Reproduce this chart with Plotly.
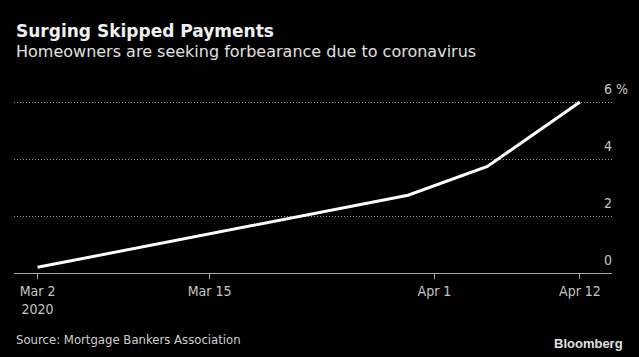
import plotly.graph_objects as go

# Data
dates = ["2020-03-02", "2020-03-30", "2020-04-05", "2020-04-12"]
share_pct = [0.2, 2.73, 3.74, 6.0]

x_tick_vals = ["2020-03-02", "2020-03-15", "2020-04-01", "2020-04-12"]
x_tick_text = ["Mar 2<br>2020", "Mar 15", "Apr 1", "Apr 12"]
y_tick_vals = [0, 2, 4, 6]
y_tick_text = ["0", "2", "4", "6 %"]

title = "Surging Skipped Payments"
subtitle = "Homeowners are seeking forbearance due to coronavirus"
source = "Source: Mortgage Bankers Association"

COND = "DejaVu Sans Condensed, DejaVu Sans, sans-serif"

fig = go.Figure()
fig.add_trace(go.Scatter(
    x=dates, y=share_pct, mode="lines",
    line=dict(color="#ffffff", width=3),
    hoverinfo="skip", showlegend=False,
))

fig.update_layout(
    width=639, height=357,
    paper_bgcolor="#000000", plot_bgcolor="#000000",
    margin=dict(l=14, r=27, t=93, b=84),
    xaxis=dict(
        type="date",
        range=["2020-02-29 05:17", "2020-04-14 10:05"],
        tickvals=x_tick_vals, ticktext=x_tick_text,
        showgrid=False, zeroline=False,
        showline=True, linecolor="#a8a8a8", linewidth=1,
        ticks="outside", ticklen=5, tickcolor="#a8a8a8", tickwidth=1,
        tickfont=dict(family=COND, size=14, color="#c4c4c4"),
        fixedrange=True,
    ),
    yaxis=dict(
        range=[0, 6.316],
        tickvals=y_tick_vals, showticklabels=False,
        showgrid=True, gridcolor="#9a9a9a", griddash="1px,2px", gridwidth=1,
        zeroline=False, showline=False, ticks="",
        fixedrange=True,
    ),
    showlegend=False,
)

annotations = []
for v, t in zip(y_tick_vals, y_tick_text):
    annotations.append(dict(
        x=0.983, xref="paper", y=v, yref="y", text=t, showarrow=False,
        xanchor="left", yanchor="middle", yshift=13,
        font=dict(family=COND, size=14, color="#c4c4c4"),
    ))

annotations += [
    dict(x=0, xref="paper", y=1.344, yref="paper", text="<b>" + title + "</b>",
         showarrow=False, xanchor="left", yanchor="middle",
         font=dict(family="DejaVu Sans, sans-serif", size=17, color="#f0f0f0")),
    dict(x=0, xref="paper", y=1.228, yref="paper", text=subtitle,
         showarrow=False, xanchor="left", yanchor="middle",
         font=dict(family="DejaVu Sans, sans-serif", size=16, color="#e0e0e0")),
    dict(x=0, xref="paper", y=-0.367, yref="paper", text=source,
         showarrow=False, xanchor="left", yanchor="middle",
         font=dict(family=COND, size=13, color="#cfcfcf")),
    dict(x=1.022, xref="paper", y=-0.394, yref="paper", text="<b>Bloomberg</b>",
         showarrow=False, xanchor="right", yanchor="middle",
         font=dict(family="Liberation Sans, Arial, sans-serif", size=13, color="#e0e0e0")),
]
fig.update_layout(annotations=annotations)

fig.write_html(
    "out.html",
    config={"displayModeBar": False},
    post_script="document.body.style.margin='0';document.body.style.background='#000';",
)
